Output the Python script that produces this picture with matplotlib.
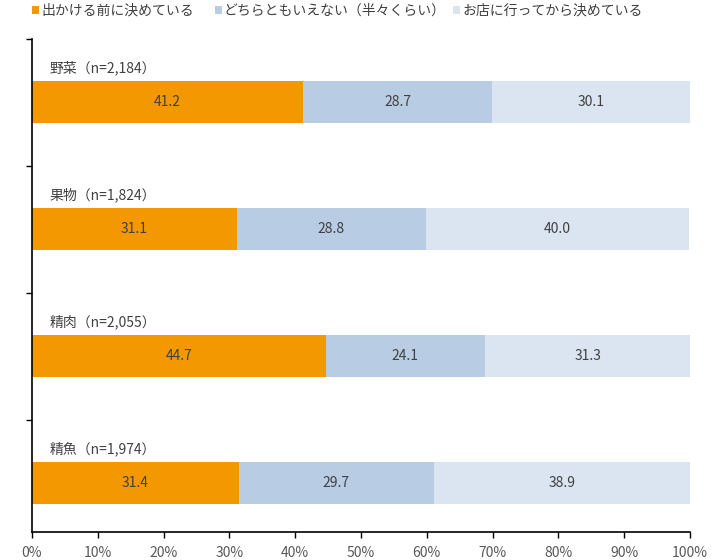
import numpy as np
import matplotlib
matplotlib.use('Agg')
import matplotlib.pyplot as plt
from matplotlib.patches import Patch

plt.rcParams['font.family'] = ['Noto Sans CJK JP', 'DejaVu Sans']

categories = ['野菜（n=2,184）', '果物（n=1,824）', '精肉（n=2,055）', '精魚（n=1,974）']
series_names = ['出かける前に決めている', 'どちらともいえない（半々くらい）', 'お店に行ってから決めている']
before = [41.2, 31.1, 44.7, 31.4]
half = [28.7, 28.8, 24.1, 29.7]
instore = [30.1, 40.0, 31.3, 38.9]
colors = ['#F39800', '#B8CCE4', '#DBE5F1']

fig = plt.figure(figsize=(7.2, 5.6), dpi=100)
ax = fig.add_axes([0.0444, 0.05, 0.9139, 0.8804])

y = np.arange(len(categories))
left = np.zeros(len(categories))
for vals, c in zip([before, half, instore], colors):
    vals = np.array(vals)
    ax.barh(y, vals, left=left, height=0.33, color=c, edgecolor='none')
    for yi, l, v in zip(y, left, vals):
        ax.text(l + v / 2, yi, f'{v:.1f}', ha='center', va='center',
                fontsize=10, color='#404040')
    left = left + vals

for yi, cat in zip(y, categories):
    ax.text(2.7, yi - 0.27, cat, ha='left', va='center', fontsize=10, color='#404040')

ax.set_xlim(0, 100)
ax.set_ylim(3.386, -0.5)
ax.set_xticks(np.arange(0, 101, 10))
ax.set_xticklabels([f'{t}%' for t in range(0, 101, 10)], fontsize=10, color='#595959')
ax.set_yticks([-0.5, 0.5, 1.5, 2.5])
ax.set_yticklabels([])
ax.tick_params(axis='both', direction='out', length=4, width=1, color='black')
ax.tick_params(axis='x', pad=6)
for s in ['top', 'right']:
    ax.spines[s].set_visible(False)
for s in ['left', 'bottom']:
    ax.spines[s].set_linewidth(1.2)
    ax.spines[s].set_color('black')

# legend entries placed one by one (square left edge in px)
legend_x = [32, 215, 453]
for name, c, xp in zip(series_names, colors, legend_x):
    fig.legend([Patch(facecolor=c, edgecolor='none')], [name], loc='center left',
               bbox_to_anchor=(xp / 720, 1 - 11 / 560), frameon=False, fontsize=10,
               handlelength=0.5, handleheight=0.5, handletextpad=0.15,
               labelcolor='#404040', borderpad=0, borderaxespad=0)

fig.savefig('out.png', dpi=100)
